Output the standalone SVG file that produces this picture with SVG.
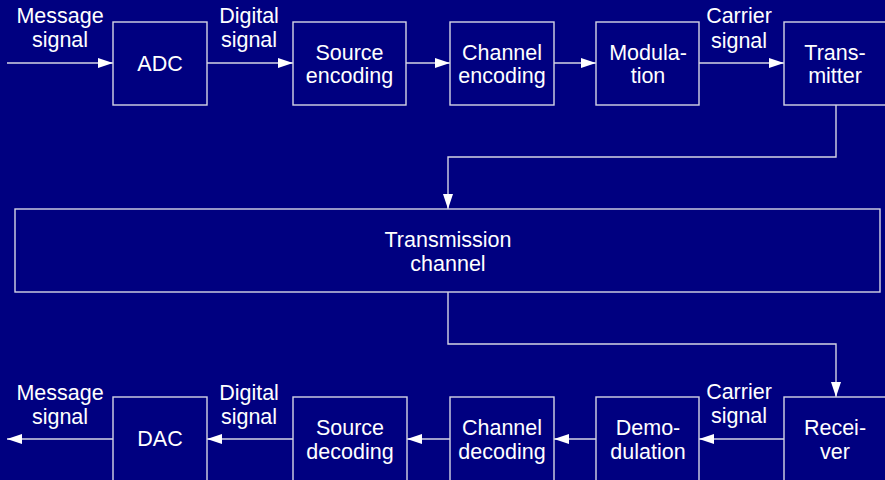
<svg xmlns="http://www.w3.org/2000/svg" width="885" height="480" viewBox="0 0 885 480">
<defs>
<marker id="ah" viewBox="0 0 15 10" refX="15" refY="5" markerWidth="15" markerHeight="10" markerUnits="userSpaceOnUse" orient="auto">
<path d="M0,0 L15,5 L0,10 Z" fill="#ffffff"/>
</marker>
<style>
.box{fill:none;stroke:#d4d4e4;stroke-width:1.4}
.ln{fill:none;stroke:#d4d4e4;stroke-width:1.4;marker-end:url(#ah)}
text{font-family:"Liberation Sans",Arial,sans-serif;font-size:21.5px;fill:#ffffff;text-anchor:middle}
</style>
</defs>
<rect width="885" height="480" fill="#000080"/>
<g id="connectors">
<line class="ln" x1="7" y1="63" x2="113" y2="63"/>
<line class="ln" x1="207" y1="63" x2="293" y2="63"/>
<line class="ln" x1="406" y1="63" x2="450" y2="63"/>
<line class="ln" x1="554" y1="63" x2="596" y2="63"/>
<line class="ln" x1="699" y1="63" x2="784" y2="63"/>
<path class="ln" d="M836,105 V157 H448 V209"/>
<path class="ln" d="M448,292 V344 H836 V397"/>
<line class="ln" x1="784" y1="439" x2="699" y2="439"/>
<line class="ln" x1="596" y1="439" x2="554" y2="439"/>
<line class="ln" x1="450" y1="439" x2="407" y2="439"/>
<line class="ln" x1="293" y1="439" x2="207" y2="439"/>
<line class="ln" x1="113" y1="439" x2="7" y2="439"/>
</g>
<g id="labels">
<text x="60" y="23">Message</text><text x="60" y="47">signal</text>
<text x="249" y="23">Digital</text><text x="249" y="47">signal</text>
<text x="739" y="23">Carrier</text><text x="739" y="48">signal</text>
<text x="60" y="400">Message</text><text x="60" y="424">signal</text>
<text x="249" y="400">Digital</text><text x="249" y="424">signal</text>
<text x="739" y="399">Carrier</text><text x="739" y="423">signal</text>
</g>
<g id="adc"><rect class="box" x="113" y="22" width="94" height="83"/><text x="160" y="71">ADC</text></g>
<g id="source-encoding"><rect class="box" x="293" y="22" width="113" height="83"/><text x="349.5" y="60">Source</text><text x="349.5" y="83">encoding</text></g>
<g id="channel-encoding"><rect class="box" x="450" y="22" width="104" height="83"/><text x="502" y="60">Channel</text><text x="502" y="83">encoding</text></g>
<g id="modulation"><rect class="box" x="596" y="22" width="103" height="83"/><text x="648" y="60">Modula-</text><text x="648" y="83">tion</text></g>
<g id="transmitter"><rect class="box" x="784" y="22" width="104" height="83"/><text x="835" y="60">Trans-</text><text x="835" y="83">mitter</text></g>
<g id="transmission-channel"><rect class="box" x="15" y="209" width="865" height="83"/><text x="448" y="247">Transmission</text><text x="448" y="271">channel</text></g>
<g id="receiver"><rect class="box" x="784" y="397" width="104" height="86"/><text x="835" y="435">Recei-</text><text x="835" y="459">ver</text></g>
<g id="demodulation"><rect class="box" x="596" y="397" width="103" height="86"/><text x="648" y="435">Demo-</text><text x="648" y="459">dulation</text></g>
<g id="channel-decoding"><rect class="box" x="450" y="397" width="104" height="86"/><text x="502" y="435">Channel</text><text x="502" y="459">decoding</text></g>
<g id="source-decoding"><rect class="box" x="293" y="397" width="114" height="86"/><text x="350" y="435">Source</text><text x="350" y="459">decoding</text></g>
<g id="dac"><rect class="box" x="113" y="397" width="94" height="86"/><text x="160" y="446">DAC</text></g>
</svg>
